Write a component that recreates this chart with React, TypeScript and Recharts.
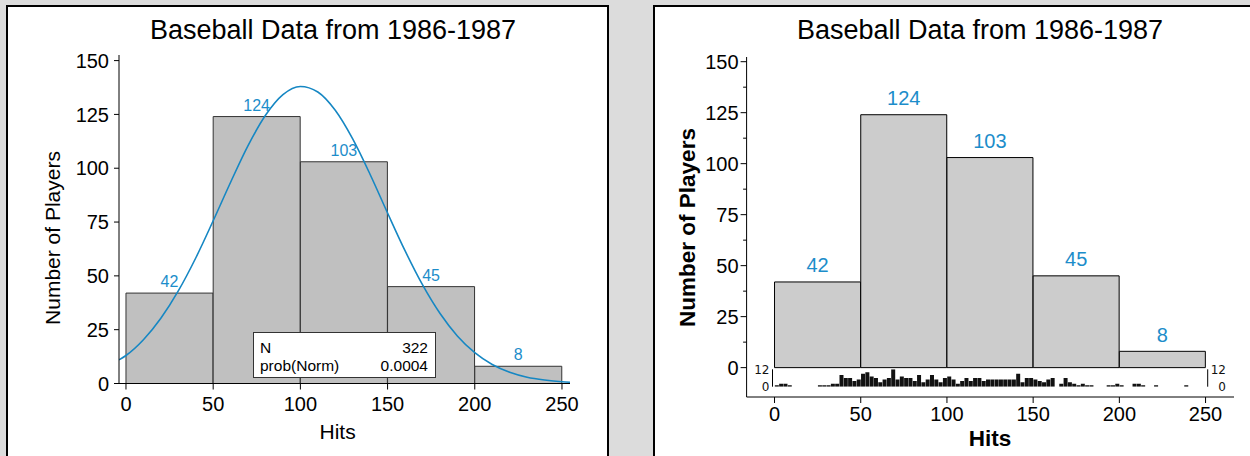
import React from 'react';
import { ComposedChart, BarChart, Bar, Line, XAxis, YAxis, LabelList } from 'recharts';

const FONT = '"Liberation Sans", Arial, Helvetica, sans-serif';
const BLUE = '#1c8dca';
const CURVE = '#1687c3';

// Main histogram (bin centers and counts)
const binMids = [25, 75, 125, 175, 225];
const binCounts = [42, 124, 103, 45, 8];
const hitTicks = [0, 50, 100, 150, 200, 250];
const countTicks = [0, 25, 50, 75, 100, 125, 150];
const countTicksMinor = [0, 12.5, 25, 37.5, 50, 62.5, 75, 87.5, 100, 112.5, 125, 137.5, 150];

// Fitted normal curve
const curveHits = [-4, 0, 10, 20, 30, 40, 50, 60, 70, 80, 90, 100, 110, 120, 130, 140, 150, 160, 170, 180, 190, 200, 210, 220, 230, 240, 250, 254.6];
const curveCounts = [11.0, 13.0, 20.3, 30.3, 43.0, 58.3, 75.6, 93.5, 110.5, 124.6, 134.2, 138.0, 135.4, 126.9, 113.6, 97.1, 79.2, 61.7, 45.9, 32.6, 22.1, 14.3, 8.8, 5.2, 2.9, 1.6, 0.8, 0.6];

// Fine-bin strip under the right chart
const rugMids = [
  1.25, 3.75, 6.25, 8.75, 11.25, 13.75, 16.25, 18.75, 21.25, 23.75,
  26.25, 28.75, 31.25, 33.75, 36.25, 38.75, 41.25, 43.75, 46.25, 48.75,
  51.25, 53.75, 56.25, 58.75, 61.25, 63.75, 66.25, 68.75, 71.25, 73.75,
  76.25, 78.75, 81.25, 83.75, 86.25, 88.75, 91.25, 93.75, 96.25, 98.75,
  101.25, 103.75, 106.25, 108.75, 111.25, 113.75, 116.25, 118.75, 121.25, 123.75,
  126.25, 128.75, 131.25, 133.75, 136.25, 138.75, 141.25, 143.75, 146.25, 148.75,
  151.25, 153.75, 156.25, 158.75, 161.25, 163.75, 166.25, 168.75, 171.25, 173.75,
  176.25, 178.75, 181.25, 183.75, 186.25, 188.75, 191.25, 193.75, 196.25, 198.75,
  201.25, 203.75, 206.25, 208.75, 211.25, 213.75, 216.25, 218.75, 221.25, 223.75,
  226.25, 228.75, 231.25, 233.75, 236.25, 238.75, 241.25, 243.75, 246.25, 248.75,
];
const rugCounts = [
  1, 2, 2, 1, 0, 0, 0, 0, 0, 0,
  1, 1, 1, 2, 2, 8, 6, 6, 4, 5,
  9, 10, 7, 6, 3, 5, 6, 12, 5, 7,
  6, 6, 4, 8, 3, 5, 8, 5, 3, 6,
  7, 5, 2, 4, 6, 4, 6, 6, 4, 5,
  5, 5, 5, 5, 5, 5, 9, 3, 6, 6,
  5, 4, 3, 5, 6, 0, 2, 6, 3, 2,
  1, 2, 1, 1, 0, 0, 0, 1, 1, 2,
  1, 0, 0, 2, 2, 1, 0, 0, 1, 0,
  0, 0, 0, 0, 0, 1, 0, 0, 0, 0,
];
const rugTicks = [0, 12];

const binData = binMids.map((mid, i) => ({ mid, count: binCounts[i] }));
const curveData = curveHits.map((h, i) => ({ h, fit: curveCounts[i] }));
const rugData = rugMids.map((mid, i) => ({ mid, n: rugCounts[i] }));

const RightYTick = (props: any) => {
  const { x, y, payload } = props;
  const v = payload.value;
  const major = v % 25 === 0;
  const ax = x + 8;
  return (
    <g>
      <line x1={ax - (major ? 6 : 3.5)} x2={ax} y1={y} y2={y} stroke="#000" strokeWidth={1} />
      {major && (
        <text x={x} y={y} dy="0.36em" textAnchor="end" fill="#000" fontSize={20} fontFamily={FONT}>
          {v}
        </text>
      )}
    </g>
  );
};

const StripRightTick = (props: any) => {
  const { x, y, payload } = props;
  return (
    <text x={x} y={y} dy="0.36em" textAnchor="end" fill="#111" fontSize={12} fontFamily='"DejaVu Sans", sans-serif'>
      {payload.value}
    </text>
  );
};

export default function App() {
  return (
    <div style={{ position: 'absolute', left: 0, top: 0, width: 1250, height: 456, background: '#dcdcdc', overflow: 'hidden', fontFamily: FONT }}>
      <div style={{ position: 'absolute', left: 6, top: 5, width: 603, height: 520, background: '#fff', border: '2px solid #000', boxSizing: 'border-box' }} />
      <div style={{ position: 'absolute', left: 653, top: 5, width: 700, height: 520, background: '#fff', border: '2px solid #000', boxSizing: 'border-box' }} />

      {/* Left chart */}
      <div style={{ position: 'absolute', left: 0, top: 0 }}>
        <ComposedChart width={625} height={456} data={binData} margin={{ top: 55, right: 55, bottom: 0, left: 0 }} barCategoryGap={0} barGap={0}>
          <XAxis xAxisId="bins" dataKey="mid" type="number" domain={[-4, 254.6]} allowDataOverflow ticks={hitTicks} interval={0}
            height={72.5} tickSize={6} tickMargin={7} axisLine={{ stroke: '#000' }} tickLine={{ stroke: '#000' }}
            tick={{ fill: '#000', fontSize: 20, fontFamily: FONT }} />
          <XAxis xAxisId="curve" dataKey="h" type="number" domain={[-4, 254.6]} allowDataOverflow hide />
          <YAxis type="number" domain={[0, 152.6]} allowDataOverflow ticks={countTicks} interval={0} width={119}
            tickSize={5} tickMargin={5} axisLine={{ stroke: '#000' }} tickLine={{ stroke: '#000' }}
            tick={{ fill: '#000', fontSize: 20, fontFamily: FONT }} />
          <Bar xAxisId="bins" dataKey="count" fill="#c0c0c0" stroke="#333" strokeWidth={1} isAnimationActive={false}>
            <LabelList dataKey="count" position="top" offset={6} fill={BLUE} fontSize={16} fontFamily={FONT} />
          </Bar>
          <Line xAxisId="curve" data={curveData} dataKey="fit" type="monotone" stroke={CURVE} strokeWidth={1.6} dot={false} activeDot={false} isAnimationActive={false} />
        </ComposedChart>
      </div>

      {/* Right chart */}
      <div style={{ position: 'absolute', left: 625, top: 0 }}>
        <ComposedChart width={625} height={456} data={binData} margin={{ top: 57, right: 16, bottom: 0, left: 0 }} barCategoryGap={0} barGap={0}>
          <XAxis dataKey="mid" type="number" domain={[-16.2, 266.5]} allowDataOverflow ticks={hitTicks} interval={0}
            height={59} tickSize={6} tickMargin={4} axisLine={{ stroke: '#000' }} tickLine={{ stroke: '#000' }}
            tick={{ fill: '#000', fontSize: 20, fontFamily: FONT }} />
          <YAxis type="number" domain={[-14.4, 152.3]} allowDataOverflow ticks={countTicksMinor} interval={0} width={121.6}
            tickSize={6} tickMargin={2} axisLine={{ stroke: '#000' }} tickLine={false} tick={<RightYTick />} />
          <Bar dataKey="count" fill="#cccccc" stroke="#000" strokeWidth={1} isAnimationActive={false}>
            <LabelList dataKey="count" position="top" offset={9.5} fill={BLUE} fontSize={20} fontFamily={FONT} />
          </Bar>
        </ComposedChart>
      </div>

      {/* Fine-bin strip */}
      <div style={{ position: 'absolute', left: 740, top: 360 }}>
        <BarChart width={500} height={40} data={rugData} margin={{ top: 9.3, right: 0, bottom: 13.3, left: 0 }} barCategoryGap="8%" barGap={0}>
          <XAxis dataKey="mid" type="number" domain={[-1.16, 251.3]} allowDataOverflow height={0} tick={false} tickLine={false} axisLine={{ stroke: '#000' }} />
          <YAxis yAxisId="l" type="number" domain={[0, 12]} allowDataOverflow ticks={rugTicks} interval={0} width={32.5}
            tickSize={0} tickMargin={3} axisLine={{ stroke: '#000' }} tickLine={false}
            tick={{ fill: '#111', fontSize: 12, fontFamily: '"DejaVu Sans", sans-serif' }} />
          <YAxis yAxisId="r" orientation="right" type="number" domain={[0, 12]} allowDataOverflow ticks={rugTicks} interval={0} width={32.3}
            tickSize={0} tickMargin={18.3} axisLine={{ stroke: '#000' }} tickLine={false} tick={<StripRightTick />} />
          <Bar yAxisId="l" dataKey="n" fill="#111" isAnimationActive={false} />
        </BarChart>
      </div>

      {/* Titles, axis titles and stats box */}
      <svg width={1250} height={456} style={{ position: 'absolute', left: 0, top: 0, pointerEvents: 'none' }}>
        <text x={333} y={39.3} textAnchor="middle" fontSize={27} fontFamily={FONT} fill="#000">Baseball Data from 1986-1987</text>
        <text x={980} y={39.3} textAnchor="middle" fontSize={27} fontFamily={FONT} fill="#000">Baseball Data from 1986-1987</text>
        <text x={337.6} y={439.3} textAnchor="middle" fontSize={21} fontFamily={FONT} fill="#000">Hits</text>
        <text x={60} y={238} transform="rotate(-90, 60, 238)" textAnchor="middle" fontSize={21} fontFamily={FONT} fill="#000">Number of Players</text>
        <text x={990} y={446} textAnchor="middle" fontSize={22.5} fontWeight="bold" fontFamily={FONT} fill="#000">Hits</text>
        <text x={695} y={227.5} transform="rotate(-90, 695, 227.5)" textAnchor="middle" fontSize={22.5} fontWeight="bold" fontFamily={FONT} fill="#000">Number of Players</text>
        <rect x={253.5} y={332.5} width={182} height={45} fill="#fff" stroke="#333" strokeWidth={1} />
        <text x={260} y={352.7} fontSize={15.5} fontFamily={FONT} fill="#000">N</text>
        <text x={428} y={352.7} textAnchor="end" fontSize={15.5} fontFamily={FONT} fill="#000">322</text>
        <text x={260} y={370.5} fontSize={15.5} fontFamily={FONT} fill="#000">prob(Norm)</text>
        <text x={428} y={370.5} textAnchor="end" fontSize={15.5} fontFamily={FONT} fill="#000">0.0004</text>
      </svg>
    </div>
  );
}
